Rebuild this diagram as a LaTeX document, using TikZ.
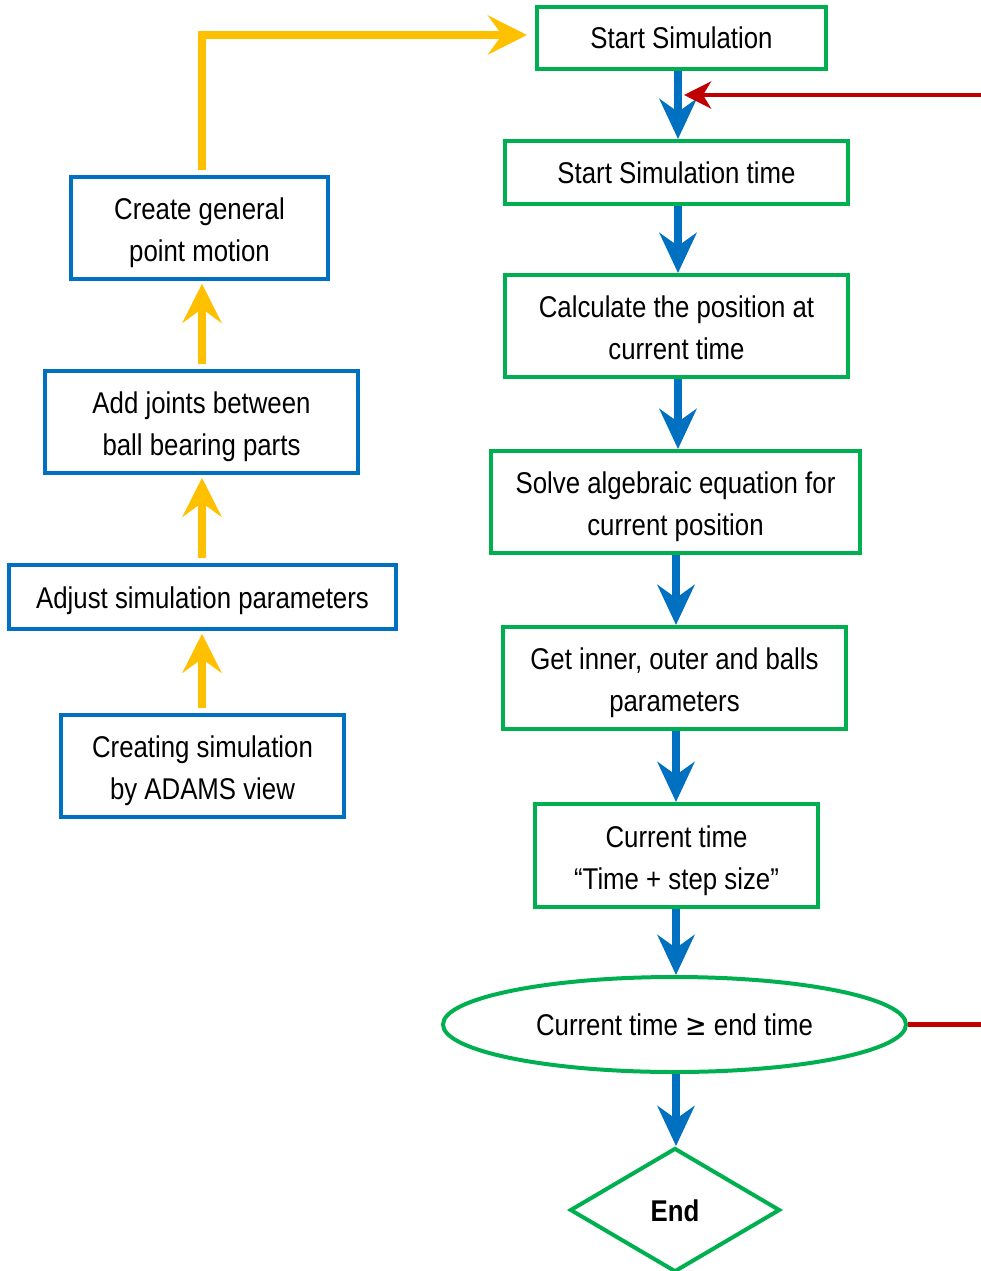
\documentclass[tikz,border=0pt]{standalone}
\usepackage{fontspec}
\setmainfont[FakeStretch=0.86]{Liberation Sans}
\newfontfamily\symfont[FakeStretch=0.86]{DejaVu Sans}
\usetikzlibrary{arrows.meta,shapes.geometric}
\definecolor{cgreen}{HTML}{00B050}
\definecolor{cblue}{HTML}{0070C0}
\definecolor{cyellow}{HTML}{FFC000}
\definecolor{cred}{HTML}{C00000}
\newcommand\ftop{\rule{0pt}{31.5pt}}
\newcommand\lbot{\rule[-6.5pt]{0pt}{6.5pt}}
\newcommand\sstrut{\rule[-6.5pt]{0pt}{35pt}}
\tikzset{
  gbox/.style={draw=cgreen,line width=4pt,rectangle,inner sep=0pt,align=center,font=\fontsize{30}{42}\selectfont},
  bbox/.style={draw=cblue,line width=3.5pt,rectangle,inner sep=0pt,align=center,font=\fontsize{30}{42}\selectfont},
  barrow/.style={draw=cblue,line width=8pt,-{Stealth[length=40pt,width=37pt,inset=13pt]}},
  yarrow/.style={draw=cyellow,line width=8pt,-{Stealth[length=39pt,width=39pt,inset=14pt]}},
  rarrow/.style={draw=cred,line width=4.5pt,-{Stealth[length=27pt,width=27pt,inset=8pt]}},
}
\begin{document}
\begin{tikzpicture}[x=1pt,y=-1pt]
\useasboundingbox (0,0) rectangle (980,1271);
% right column
\node[gbox,minimum width=289pt,minimum height=62pt] (ss) at (681.5,38) {\sstrut Start Simulation};
\node[gbox,minimum width=343pt,minimum height=63pt] (st) at (676.5,172.5) {\sstrut Start Simulation time};
\node[gbox,minimum width=343pt,minimum height=102pt] (cp) at (676.5,326) {\ftop Calculate the position at\\current time\lbot};
\node[gbox,minimum width=369pt,minimum height=102pt] (sa) at (675.5,502) {\ftop Solve algebraic equation for\\current position\lbot};
\node[gbox,minimum width=343pt,minimum height=102pt] (gi) at (674.5,678) {\ftop Get inner, outer and balls\\parameters\lbot};
\node[gbox,minimum width=283pt,minimum height=103pt] (ct) at (676.5,855.5) {\ftop Current time\\“Time + step size”\lbot};
\node[draw=cgreen,line width=4pt,ellipse,inner sep=0pt,minimum width=463pt,minimum height=95pt,font=\fontsize{30}{42}\selectfont] (el) at (674.5,1024.5) {\sstrut Current time {\symfont ≥} end time};
\node[draw=cgreen,line width=4pt,diamond,inner sep=0pt,minimum width=210pt,minimum height=124pt,font=\fontsize{30}{42}\selectfont\bfseries] (en) at (675,1210) {\sstrut End};
% left column
\node[bbox,minimum width=257pt,minimum height=102pt] (cg) at (199.5,228) {\ftop Create general\\point motion\lbot};
\node[bbox,minimum width=313pt,minimum height=102pt] (aj) at (201.5,422) {\ftop Add joints between\\ball bearing parts\lbot};
\node[bbox,minimum width=387pt,minimum height=64pt] (as) at (202.5,597) {\sstrut Adjust simulation parameters};
\node[bbox,minimum width=283pt,minimum height=102pt] (cs) at (202.5,766) {\ftop Creating simulation\\by ADAMS view\lbot};
% blue arrows
\draw[barrow] (ss.south -| 678,0) -- (st.north -| 678,0);
\draw[barrow] (st.south -| 678,0) -- (cp.north -| 678,0);
\draw[barrow] (cp.south -| 678,0) -- (sa.north -| 678,0);
\draw[barrow] (sa.south -| 676,0) -- (gi.north -| 676,0);
\draw[barrow] (gi.south -| 676,0) -- (ct.north -| 676,0);
\draw[barrow] (ct.south -| 676,0) -- (el.north -| 676,0);
\draw[barrow] (el.south -| 676,0) -- (en.north -| 676,0);
% yellow arrows
\draw[yarrow,shorten <=5pt,shorten >=3pt] (cs.north -| 202,0) -- (as.south -| 202,0);
\draw[yarrow,shorten <=5pt,shorten >=3pt] (as.north -| 202,0) -- (aj.south -| 202,0);
\draw[yarrow,shorten <=5pt,shorten >=3pt] (aj.north -| 202,0) -- (cg.south -| 202,0);
\coordinate (yc) at (202,35);
\coordinate (yt) at (527,35);
\draw[yarrow,shorten <=5pt] (cg.north -| 202,0) -- (yc) -- (yt);
% red feedback
\coordinate (rc) at (1000,95);
\coordinate (rt) at (684,95);
\draw[rarrow] (el.east) -| (rc) -- (rt);
\end{tikzpicture}
\end{document}
